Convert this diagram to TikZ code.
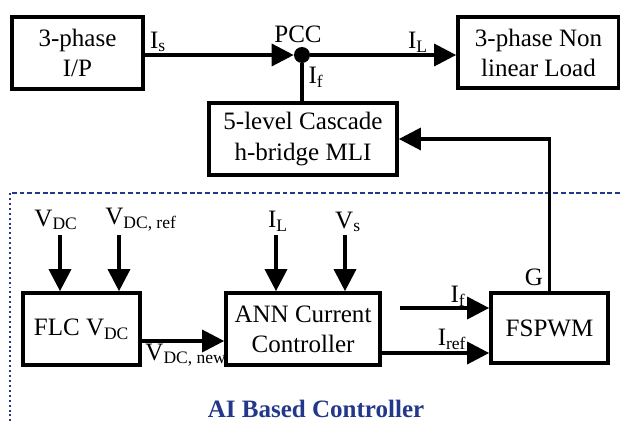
\documentclass[tikz,border=0pt]{standalone}
\usepackage{fontspec}
\setmainfont{Liberation Serif}
\usetikzlibrary{arrows.meta,positioning}
\definecolor{azulosc}{HTML}{23388A}
\newcommand{\tam}{\fontsize{17.8}{21.4}\selectfont}

\begin{document}
\begin{tikzpicture}[x=0.025cm,y=-0.025cm,
  caja/.style={draw,line width=2.6pt,inner sep=0pt,align=center,font=\tam,minimum height=1.8cm},
  etq/.style={inner sep=0pt,font=\tam},
  flecha/.style={line width=2.4pt,-{Triangle[length=0.55cm,width=0.55cm]}},
  linea/.style={line width=2.4pt}]
  \useasboundingbox (0,0) rectangle (620,421);
  % parte de potencia
  \node[caja,minimum width=3.275cm] (inp) at (77.5,53) {3-phase\\I/P};
  \node[caja,minimum width=4.025cm,minimum height=1.775cm] (load) at (538.5,52.5) {3-phase Non\\linear Load};
  \node[caja,minimum width=4.7cm] (mli) at (303,139) {5-level Cascade\\h-bridge MLI};
  \node[circle,fill,inner sep=0pt,minimum size=0.4cm] (pcc) at (302,55) {};
  \draw[flecha] (inp.east |- pcc) -- (pcc);
  \draw[flecha] (pcc) -- (pcc -| load.west);
  \draw[linea] (pcc) -- (pcc |- mli.north);
  \node[etq] (is) at (158,42) {I\textsubscript{s}};
  \node[etq] (pcct) at (298,34) {PCC};
  \node[etq] (il) at (418,42) {I\textsubscript{L}};
  \node[etq] (if) at (316,77) {I\textsubscript{f}};
  % controlador
  \draw[azulosc,line width=1.4pt,dash pattern=on 3.5pt off 2pt] (620,193) -- (10,193);
  \draw[azulosc,line width=1.5pt,dash pattern=on 1.4pt off 2.1pt] (10,193) -- (10,421);
  \node[caja,minimum width=2.925cm] (flc) at (81.5,329) {FLC V\textsubscript{DC}};
  \node[caja,minimum width=3.85cm] (ann) at (303,329) {ANN Current\\Controller};
  \node[caja,minimum width=2.925cm,minimum height=1.75cm] (fsp) at (549.5,328) {FSPWM};
  \coordinate (e1) at (60,235);
  \coordinate (e2) at (119,235);
  \coordinate (e3) at (276,235);
  \coordinate (e4) at (345,235);
  \coordinate (e5) at (400,308);
  \foreach \e in {e1,e2}{ \draw[flecha] (\e) -- (\e |- flc.north); }
  \foreach \e in {e3,e4}{ \draw[flecha] (\e) -- (\e |- ann.north); }
  \draw[flecha] ([yshift=-0.3cm]flc.east) -- ([yshift=-0.3cm]flc.east -| ann.west);
  \draw[flecha] (e5) -- (e5 -| fsp.west);
  \draw[flecha] ([yshift=-0.6cm]ann.east) -- ([yshift=-0.6cm]ann.east -| fsp.west);
  \draw[flecha] (fsp.north) |- (mli.east);
  \node[etq] (vdc) at (56,220) {V\textsubscript{DC}};
  \node[etq] (vref) at (141,220) {V\textsubscript{DC, ref}};
  \node[etq] (il2) at (278,221) {I\textsubscript{L}};
  \node[etq] (vs) at (348,222) {V\textsubscript{s}};
  \node[etq] (vnew) at (186,355) {V\textsubscript{DC, new}};
  \node[etq] (if2) at (458,296) {I\textsubscript{f}};
  \node[etq] (iref) at (452,339) {I\textsubscript{ref}};
  \node[etq] (g) at (534,277) {G};
  \node[etq,font=\tam\bfseries,text=azulosc] (ai) at (316,409) {AI Based Controller};
\end{tikzpicture}
\end{document}
